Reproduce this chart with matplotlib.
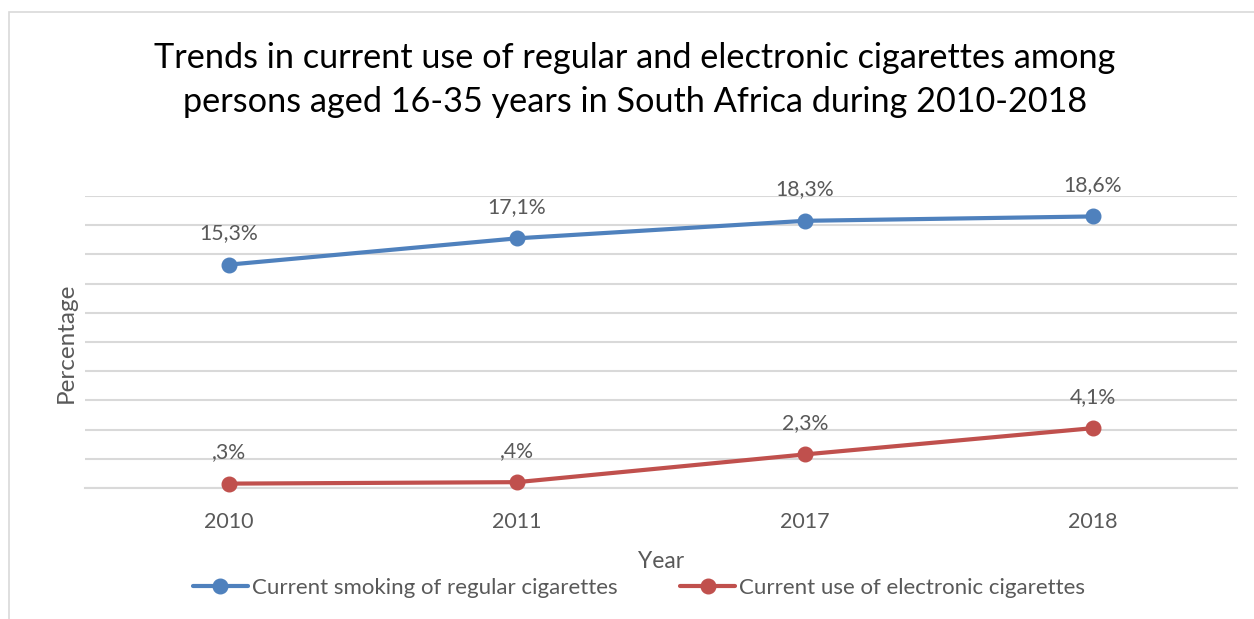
import matplotlib
matplotlib.use("Agg")
import matplotlib.pyplot as plt
from matplotlib.patches import Rectangle

years = ["2010", "2011", "2017", "2018"]
regular = [15.3, 17.1, 18.3, 18.6]
electronic = [0.3, 0.4, 2.3, 4.1]
regular_labels = ["15,3%", "17,1%", "18,3%", "18,6%"]
electronic_labels = [",3%", ",4%", "2,3%", "4,1%"]
series_names = ["Current smoking of regular cigarettes", "Current use of electronic cigarettes"]
title = "Trends in current use of regular and electronic cigarettes among\npersons aged 16-35 years in South Africa during 2010-2018"

plt.rcParams['font.family'] = ['Lato', 'DejaVu Sans']
BLUE = "#4F81BD"
RED = "#C0504D"
GRAY = "#595959"

fig = plt.figure(figsize=(12.54, 6.19), dpi=100)
fig.patches.append(Rectangle((9/1254, -0.1), 1.2, 1 - 12/619 + 0.1, transform=fig.transFigure,
                             fill=False, edgecolor="#D9D9D9", linewidth=1.2))
ax = fig.add_axes([85/1254, 1 - 488/619, (1237 - 85)/1254, (488 - 196)/619])

x = list(range(len(years)))
ax.plot(x, regular, color=BLUE, lw=3, marker="o", ms=10.5, label=series_names[0], zorder=3,
        solid_capstyle="round", clip_on=False)
ax.plot(x, electronic, color=RED, lw=3, marker="o", ms=10.5, label=series_names[1], zorder=3,
        solid_capstyle="round", clip_on=False)

for xi, v, t in zip(x, regular, regular_labels):
    ax.annotate(t, (xi, v), xytext=(0, 15.5), textcoords="offset points", ha="center", va="bottom",
                fontsize=15.3, color=GRAY)
for xi, v, t in zip(x, electronic, electronic_labels):
    ax.annotate(t, (xi, v), xytext=(0, 15.5), textcoords="offset points", ha="center", va="bottom",
                fontsize=15.3, color=GRAY)

ax.set_xlim(-0.5, len(years) - 0.5)
ax.set_ylim(0, 20)
ax.set_yticks(range(0, 21, 2))
ax.set_yticklabels([])
ax.tick_params(axis="y", length=0)
ax.set_xticks(x)
ax.set_xticklabels(years, fontsize=15.5, color=GRAY)
ax.tick_params(axis="x", length=0, pad=17)
ax.grid(axis="y", color="#D9D9D9", lw=1.5)
ax.set_axisbelow(True)
for s in ["top", "right", "left"]:
    ax.spines[s].set_visible(False)
ax.spines["bottom"].set_color("#D9D9D9")
ax.spines["bottom"].set_linewidth(1.5)

ax.set_xlabel("Year", fontsize=16.5, color=GRAY, labelpad=14)
fig.text(66/1254, 1 - 343/619, "Percentage", rotation=90, fontsize=17.5, color=GRAY,
         ha="center", va="center")

fig.text(635/1254, 1 - 80/619, title, ha="center", va="center", fontsize=24.7, color="black",
         linespacing=1.45)

leg = fig.legend(loc="center", bbox_to_anchor=(639/1254, 1 - 588/619), ncol=2, frameon=False,
                 fontsize=16, handlelength=2.5, handletextpad=0.18, columnspacing=2.8)
for t in leg.get_texts():
    t.set_color(GRAY)

fig.savefig("out.png", dpi=100)
